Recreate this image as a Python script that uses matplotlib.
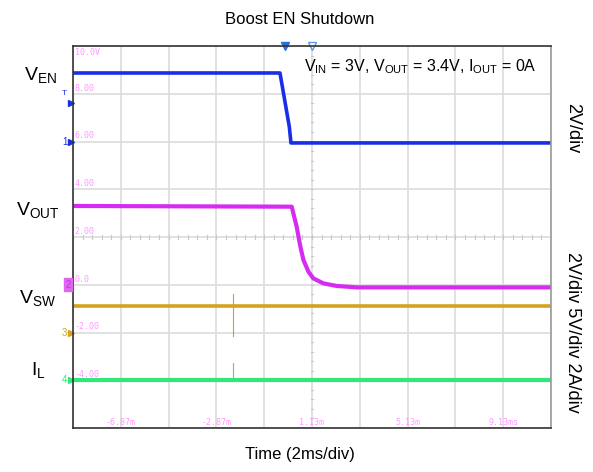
import matplotlib.pyplot as plt
import matplotlib.transforms as mtransforms
import numpy as np

plt.rcParams['font.family'] = ['Liberation Sans', 'DejaVu Sans']
plt.rcParams['mathtext.fontset'] = 'custom'
plt.rcParams['mathtext.rm'] = 'Liberation Sans'

# scope screen: x in ms, y in V (screen scale)
x_ticks = [-8.87, -6.87, -4.87, -2.87, -0.87, 1.13, 3.13, 5.13, 7.13, 9.13, 11.13]
x_labels = ['-6.87m', '-2.87m', '1.13m', '5.13m', '9.13ms']
x_label_pos = [-6.87, -2.87, 1.13, 5.13, 9.13]
y_ticks = [-6, -4, -2, 0, 2, 4, 6, 8, 10]
y_labels = ['10.0V', '8.00', '6.00', '4.00', '2.00', '0.0', '-2.00', '-4.00']
y_label_pos = [10, 8, 6, 4, 2, 0, -2, -4]

# VEN (blue)
t_en = [-8.87, -0.21, 0.18, 0.25, 11.13]
v_en = [8.87, 8.87, 6.62, 5.94, 5.94]
# VOUT (magenta)
t_out = [-8.87, 0.28, 0.49, 0.63, 0.77, 0.98, 1.18, 1.60, 2.16, 3.0, 11.13]
v_out = [3.30, 3.27, 2.43, 1.66, 1.04, 0.55, 0.27, 0.06, -0.05, -0.11, -0.11]
# VSW (gold)
t_sw = [-8.87, 11.13]
v_sw = [-0.88, -0.88]
# IL (green)
t_il = [-8.87, 11.13]
v_il = [-4.0, -4.0]
# small glitch
t_spike = -2.16
sw_spike = [-2.15, -0.39]
il_spike = [-4.0, -3.26]

c_en = '#1a2ee8'
c_out = '#d62cf2'
c_sw = '#d4a21c'
c_il = '#2ee87a'
c_lbl = '#ff99ff'

fig = plt.figure(figsize=(5.93, 4.72), dpi=100)
ax = fig.add_axes([73/593, 44/472, 478/593, 382/472])
ax.set_xlim(-8.87, 11.13)
ax.set_ylim(-6, 10)
ax.set_xticks(x_ticks)
ax.set_yticks(y_ticks)
ax.tick_params(length=0, labelleft=False, labelbottom=False)
ax.grid(color='#dcdcdc', lw=1.2)
for s in ['left', 'bottom', 'top']:
    ax.spines[s].set_color('#333333')
ax.spines['right'].set_color('#999999')
for s in ax.spines.values():
    s.set_linewidth(1.2)

# minor ticks on center lines
for xm in np.arange(-8.87, 11.13, 0.4):
    ax.plot([xm, xm], [1.92, 2.08], color='#c8c8c8', lw=0.8)
for ym in np.arange(-6, 10, 0.4):
    ax.plot([1.07, 1.19], [ym, ym], color='#c8c8c8', lw=0.8)

for yl, yp in zip(y_labels, y_label_pos):
    if yp == 10:
        ax.text(-8.8, yp - 0.1, yl, color=c_lbl, fontsize=6, family='DejaVu Sans Mono', va='top')
    else:
        ax.text(-8.8, yp + 0.05, yl, color=c_lbl, fontsize=6, family='DejaVu Sans Mono', va='bottom')
for xl, xp in zip(x_labels, x_label_pos):
    ax.text(xp, -5.95, xl, color=c_lbl, fontsize=6, family='DejaVu Sans Mono', ha='center', va='bottom')

ax.plot(t_en, v_en, color=c_en, lw=2.6)
ax.plot(t_out, v_out, color=c_out, lw=3.0)
ax.plot(t_sw, v_sw, color=c_sw, lw=2.6)
ax.plot(t_il, v_il, color=c_il, lw=3.0)
ax.plot([t_spike, t_spike], sw_spike, color=c_sw, lw=0.8)
ax.plot([t_spike, t_spike], il_spike, color=c_il, lw=0.8)

# trigger markers on top
ax.plot([0.0], [10], marker='v', color='#2a6fd6', ms=6, clip_on=False, ls='none')
ax.plot([1.13], [10], marker='v', mfc='white', mec='#5a9ae6', ms=6, clip_on=False, ls='none')

# channel markers at left
tr = mtransforms.blended_transform_factory(ax.transAxes, ax.transData)
ax.plot([-0.004], [7.6], marker='>', color=c_en, ms=4, transform=tr, clip_on=False)
ax.text(-0.012, 8.0, 'T', color=c_en, fontsize=6, transform=tr, ha='right', va='center')
ax.plot([-0.004], [6.0], marker='>', color=c_en, ms=4, transform=tr, clip_on=False)
ax.text(-0.012, 6.0, '1', color=c_en, fontsize=7, transform=tr, ha='right', va='center')
ax.text(-0.005, 0.0, '2', color=c_out, fontsize=7, transform=tr, ha='right', va='center',
        bbox=dict(boxstyle='square,pad=0.15', fc='#e066f0', ec='#e066f0'))
ax.plot([-0.004], [-2.0], marker='>', color=c_sw, ms=4, transform=tr, clip_on=False)
ax.text(-0.012, -2.0, '3', color=c_sw, fontsize=7, transform=tr, ha='right', va='center')
ax.plot([-0.004], [-4.0], marker='>', color=c_il, ms=4, transform=tr, clip_on=False)
ax.text(-0.012, -4.0, '4', color=c_il, fontsize=7, transform=tr, ha='right', va='center')

# signal names
fig.text(41/593, 1 - 75/472, r'$\mathrm{V_{EN}}$', fontsize=14, ha='center', va='center')
fig.text(38/593, 1 - 210/472, r'$\mathrm{V_{OUT}}$', fontsize=14, ha='center', va='center')
fig.text(38/593, 1 - 298/472, r'$\mathrm{V_{SW}}$', fontsize=14, ha='center', va='center')
fig.text(38/593, 1 - 370/472, r'$\mathrm{I_{L}}$', fontsize=14, ha='center', va='center')

ax.text(0.97, 0.945, r'$\mathrm{V_{IN}}$ = 3V, $\mathrm{V_{OUT}}$ = 3.4V, $\mathrm{I_{OUT}}$ = 0A',
        transform=ax.transAxes, fontsize=11.5, ha='right', va='center')

fig.text(573/593, 1 - 128/472, '2V/div', fontsize=13, rotation=-90, ha='center', va='center')
fig.text(573/593, 1 - 332/472, '2V/div 5V/div 2A/div', fontsize=13, rotation=-90, ha='center', va='center')

fig.text(300/593, 1 - 19/472, 'Boost EN Shutdown', fontsize=12, ha='center', va='center')
fig.text(300/593, 1 - 455/472, 'Time (2ms/div)', fontsize=12, ha='center', va='center')

fig.savefig('out.png', dpi=100)
